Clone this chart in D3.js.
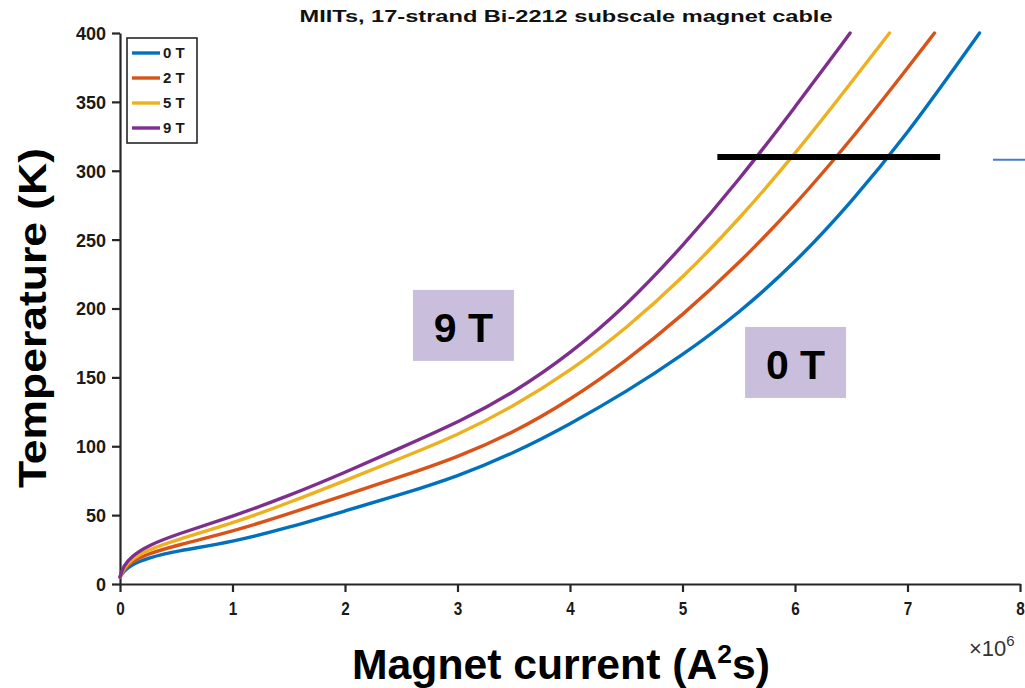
<!DOCTYPE html>
<html>
<head>
<meta charset="utf-8">
<script src="https://cdn.jsdelivr.net/npm/d3@7"></script>
<style>
  html, body { margin: 0; padding: 0; background: #fff; }
  svg { display: block; font-family: "Liberation Sans", Arial, sans-serif; }
</style>
</head>
<body>
<svg id="chart" width="1025" height="688"></svg>
<script>
// MIITs (x 10^6 A^2 s) vs. temperature (K) for each background field
const fields = ["0 T", "2 T", "5 T", "9 T"];
const colors = ["#0072BD", "#D95319", "#EDB120", "#7E2F8E"];

const miits0T = [[0,5],[0.03,9],[0.1,14],[0.25,19],[0.5,24],[1,30.5],[1.5,41],[2,53],[2.5,65],[3,78],[3.5,95],[4,116],[4.5,139.5],[5,166],[5.5,196.5],[6,233],[6.5,277],[7,327],[7.5,384],[7.64,400]];
const miits2T = [[0,5],[0.03,10],[0.1,16],[0.25,22],[0.5,28],[1,38],[1.5,51],[2,64.5],[2.5,78],[3,92],[3.5,110],[4,133.5],[4.5,162],[5,195],[5.5,232.5],[6,275],[6.5,322.5],[7,374.5],[7.24,400]];
const miits5T = [[0,5],[0.03,11],[0.1,18],[0.25,25],[0.5,32],[1,44],[1.5,59],[2,75],[2.5,91.5],[3,108],[3.5,129],[4,154.5],[4.5,185.5],[5,222],[5.5,264.5],[6,312],[6.5,364],[6.84,400]];
const miits9T = [[0,5],[0.03,13],[0.1,20],[0.25,28],[0.5,36],[1,49],[1.5,64],[2,81],[2.5,99],[3.05,119],[3.5,139],[4,167],[4.5,202],[5,245],[5.5,293],[6,346],[6.49,400]];
const series = [miits0T, miits2T, miits5T, miits9T];

const xTicks = [0,1,2,3,4,5,6,7,8];
const yTicks = [0,50,100,150,200,250,300,350,400];

// 310 K limit line and its extent in MIITs
const limitT = 310;
const limitRange = [5.31, 7.29];
// short connector stub to the right of the axes
const stubT = 308;
const stubRange = [7.76, 8.05];

// field labels placed on the plot: [label, x, T] (top-left corner of the tag)
const fieldTags = [["9 T", 2.604, 213.5], ["0 T", 5.556, 186.6]];

const svg = d3.select("#chart");
const W = 1025, H = 688;
const m = { left: 120, right: 5, top: 33, bottom: 104 };

const x = d3.scaleLinear().domain([0, 8]).range([m.left, W - m.right]);
const y = d3.scaleLinear().domain([0, 400]).range([H - m.bottom, m.top]);

const axisColor = "#262626";

// x axis
const gx = svg.append("g")
  .attr("transform", `translate(0,${y(0)})`)
  .call(d3.axisBottom(x).tickValues(xTicks).tickSize(8).tickSizeOuter(0).tickPadding(9).tickFormat(d3.format("d")));
// y axis
const gy = svg.append("g")
  .attr("transform", `translate(${x(0)},0)`)
  .call(d3.axisLeft(y).tickValues(yTicks).tickSize(8).tickSizeOuter(0).tickPadding(6).tickFormat(d3.format("d")));

[gx, gy].forEach(g => {
  g.select(".domain").attr("stroke", axisColor).attr("stroke-width", 2.2);
  g.selectAll(".tick line").attr("stroke", axisColor).attr("stroke-width", 2.2);
  g.selectAll(".tick text")
    .attr("fill", "#1a1a1a")
    .attr("font-weight", "bold")
    .attr("font-family", "'Liberation Sans', Arial, sans-serif");
});
gy.selectAll(".tick text").attr("font-size", 18).attr("dy", "0.36em");
gx.selectAll(".tick text").attr("font-size", 18)
  .attr("transform", "scale(0.85,1.05)");

// curves (B-spline through the sampled points for a smooth trace)
const line = d3.line()
  .x(d => x(d[0]))
  .y(d => y(d[1]))
  .curve(d3.curveBasis);

svg.append("g")
  .selectAll("path")
  .data(series)
  .join("path")
  .attr("d", line)
  .attr("fill", "none")
  .attr("stroke", (d, i) => colors[i])
  .attr("stroke-width", 3.4)
  .attr("stroke-linecap", "round");

// 310 K limit
svg.append("line")
  .attr("x1", x(limitRange[0])).attr("x2", x(limitRange[1]))
  .attr("y1", y(limitT)).attr("y2", y(limitT))
  .attr("stroke", "#000").attr("stroke-width", 6);

svg.append("line")
  .attr("x1", x(stubRange[0])).attr("x2", x(stubRange[1]))
  .attr("y1", y(stubT)).attr("y2", y(stubT))
  .attr("stroke", "#4a7cc9").attr("stroke-width", 2);

// field tags
const tagW = 101, tagH = 71;
const tags = svg.append("g").selectAll("g")
  .data(fieldTags)
  .join("g")
  .attr("transform", d => `translate(${x(d[1])},${y(d[2])})`);
tags.append("rect")
  .attr("width", tagW).attr("height", tagH)
  .attr("fill", "#c9bfdc");
tags.append("text")
  .attr("x", tagW / 2).attr("y", 52)
  .attr("text-anchor", "middle")
  .attr("font-size", 41).attr("font-weight", "bold")
  .attr("fill", "#000")
  .text(d => d[0]);

// legend
const lg = svg.append("g").attr("transform", "translate(127,38)");
lg.append("rect")
  .attr("width", 70).attr("height", 105)
  .attr("fill", "#fff").attr("stroke", axisColor).attr("stroke-width", 1.6);
const items = lg.selectAll("g.item")
  .data(fields)
  .join("g")
  .attr("class", "item")
  .attr("transform", (d, i) => `translate(0,${15 + i * 25})`);
items.append("line")
  .attr("x1", 5).attr("x2", 33)
  .attr("stroke", (d, i) => colors[i]).attr("stroke-width", 3.4);
items.append("text")
  .attr("x", 36).attr("dy", "0.36em")
  .attr("font-size", 15).attr("font-weight", "bold")
  .attr("fill", "#1a1a1a")
  .text(d => d);

// title
svg.append("text")
  .attr("x", 566).attr("y", 22)
  .attr("text-anchor", "middle")
  .attr("font-size", 17).attr("font-weight", "bold")
  .attr("fill", "#111")
  .attr("textLength", 533).attr("lengthAdjust", "spacingAndGlyphs")
  .text("MIITs, 17-strand Bi-2212 subscale magnet cable");

// x axis title
const xt = svg.append("text")
  .attr("x", 561).attr("y", 679)
  .attr("text-anchor", "middle")
  .attr("font-size", 42).attr("font-weight", "bold")
  .attr("fill", "#000")
  .attr("textLength", 418).attr("lengthAdjust", "spacingAndGlyphs");
xt.append("tspan").text("Magnet current (A");
xt.append("tspan").attr("font-size", 26).attr("dy", -16).text("2");
xt.append("tspan").attr("dy", 16).text("s)");

// exponent label
const ex = svg.append("text")
  .attr("x", 969).attr("y", 656)
  .attr("font-size", 22)
  .attr("fill", "#333");
ex.append("tspan").text("\u00d710");
ex.append("tspan").attr("font-size", 15).attr("dy", -10).text("6");

// y axis title
svg.append("text")
  .attr("transform", `translate(46,${318}) rotate(-90)`)
  .attr("text-anchor", "middle")
  .attr("font-size", 38).attr("font-weight", "bold")
  .attr("fill", "#000")
  .attr("textLength", 340).attr("lengthAdjust", "spacingAndGlyphs")
  .text("Temperature (K)");
</script>
</body>
</html>
